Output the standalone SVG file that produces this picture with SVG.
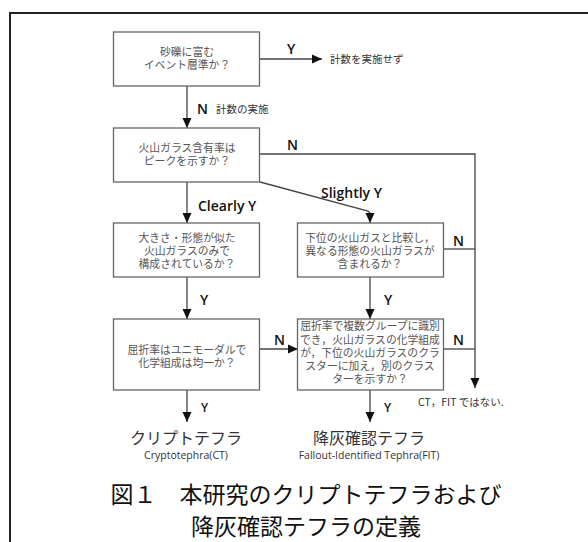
<svg xmlns="http://www.w3.org/2000/svg" width="588" height="542" viewBox="0 0 588 542">
<defs>
<marker id="ah" markerWidth="10" markerHeight="10" refX="10" refY="5" orient="auto" markerUnits="userSpaceOnUse">
<path d="M0,0.5 L10,5 L0,9.5 z" fill="#111"/>
</marker>
<style>
.box{fill:#fff;stroke:#666;stroke-width:1.3}
.bt{font-family:"Noto Sans CJK JP","Noto Sans",sans-serif;font-size:10.8px;fill:#555;text-anchor:middle}
.lbl{font-family:"Open Sans","Noto Sans",sans-serif;font-weight:600;font-size:14px;fill:#111}
.sm{font-family:"Noto Sans CJK JP","Noto Sans",sans-serif;font-size:10.5px;fill:#333}
.ln{fill:none;stroke:#444;stroke-width:1.3}
.res{font-family:"Noto Sans CJK JP",sans-serif;font-size:16px;fill:#333;text-anchor:middle}
.en{font-family:"Open Sans","Noto Sans",sans-serif;font-size:10.5px;fill:#333;text-anchor:middle}
.cap{font-family:"Noto Sans CJK JP",sans-serif;font-size:23px;fill:#111;text-anchor:middle}
</style>
</defs>
<rect x="10" y="13" width="700" height="700" fill="#fff" stroke="#222" stroke-width="2"/>
<g id="connectors">
<line class="ln" x1="260" y1="59" x2="322" y2="59" marker-end="url(#ah)"/>
<line class="ln" x1="187" y1="86" x2="187" y2="128" marker-end="url(#ah)"/>
<polyline class="ln" points="260,154 475,154 475,388" marker-end="url(#ah)"/>
<line class="ln" x1="187" y1="182" x2="187" y2="223" marker-end="url(#ah)"/>
<polyline class="ln" points="260,182 368,211 370,213 370,223" marker-end="url(#ah)"/>
<line class="ln" x1="443.5" y1="249" x2="475" y2="249"/>
<line class="ln" x1="187" y1="277" x2="187" y2="319" marker-end="url(#ah)"/>
<line class="ln" x1="370" y1="277" x2="370" y2="319" marker-end="url(#ah)"/>
<line class="ln" x1="260" y1="349" x2="298" y2="349" marker-end="url(#ah)"/>
<line class="ln" x1="443.5" y1="349" x2="475" y2="349"/>
<line class="ln" x1="187" y1="390" x2="187" y2="422" marker-end="url(#ah)"/>
<line class="ln" x1="370" y1="390" x2="370" y2="422" marker-end="url(#ah)"/>
<text class="lbl" x="287" y="54">Y</text>
<text class="sm" x="330" y="63">計数を実施せず</text>
<text class="lbl" x="197" y="114">N</text>
<text class="sm" x="216" y="113">計数の実施</text>
<text class="lbl" x="287" y="150">N</text>
<text class="lbl" x="198" y="211">Clearly Y</text>
<text class="lbl" x="321" y="198">Slightly Y</text>
<text class="lbl" x="453" y="246">N</text>
<text class="lbl" x="200" y="305">Y</text>
<text class="lbl" x="384" y="305">Y</text>
<text class="lbl" x="274" y="345">N</text>
<text class="lbl" x="453" y="345">N</text>
<text class="lbl" x="201" y="412" style="font-size:12px">Y</text>
<text class="lbl" x="384" y="412" style="font-size:12px">Y</text>
<text class="sm" x="418" y="406">CT，FIT ではない.</text>
</g>
<g id="n1">
<rect class="box" x="113.5" y="32" width="146" height="54"/>
<text class="bt" x="187" y="56">砂礫に富む</text>
<text class="bt" x="187" y="69">イベント層準か？</text>
</g>
<g id="n2">
<rect class="box" x="113.5" y="128" width="146" height="54"/>
<text class="bt" x="187" y="152">火山ガラス含有率は</text>
<text class="bt" x="187" y="165">ピークを示すか？</text>
</g>
<g id="n3">
<rect class="box" x="113.5" y="223" width="146" height="54"/>
<text class="bt" x="187" y="242">大きさ・形態が似た</text>
<text class="bt" x="187" y="255">火山ガラスのみで</text>
<text class="bt" x="187" y="268">構成されているか？</text>
</g>
<g id="n4">
<rect class="box" x="297.5" y="223" width="146" height="54"/>
<text class="bt" x="370" y="242">下位の火山ガスと比較し，</text>
<text class="bt" x="370" y="255">異なる形態の火山ガラスが</text>
<text class="bt" x="370" y="268">含まれるか？</text>
</g>
<g id="n5">
<rect class="box" x="113.5" y="319" width="146" height="71"/>
<text class="bt" x="187" y="354">屈折率はユニモーダルで</text>
<text class="bt" x="187" y="367">化学組成は均一か？</text>
</g>
<g id="n6">
<rect class="box" x="297.5" y="319" width="146" height="71"/>
<text class="bt" x="370" y="330">屈折率で複数グループに識別</text>
<text class="bt" x="370" y="344">でき，火山ガラスの化学組成</text>
<text class="bt" x="370" y="357">が，下位の火山ガラスのクラ</text>
<text class="bt" x="370" y="370">スターに加え，別のクラス</text>
<text class="bt" x="370" y="383">ターを示すか？</text>
</g>
<g id="r1">
<text class="res" x="186" y="444">クリプトテフラ</text>
<text class="en" x="186" y="459">Cryptotephra(CT)</text>
</g>
<g id="r2">
<text class="res" x="369" y="444">降灰確認テフラ</text>
<text class="en" x="369" y="459">Fallout-Identified Tephra(FIT)</text>
</g>
<g id="caption">
<text class="cap" x="306" y="503">図１　本研究のクリプトテフラおよび</text>
<text class="cap" x="306" y="535">降灰確認テフラの定義</text>
</g>
</svg>
